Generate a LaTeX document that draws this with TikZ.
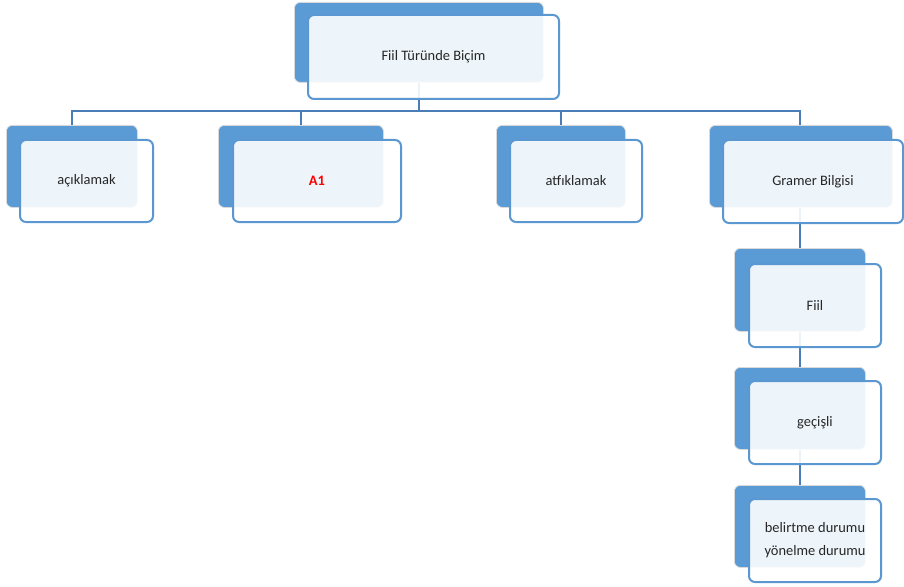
\documentclass[tikz,border=0pt]{standalone}
\usepackage{fontspec}
\setmainfont{Carlito}
\definecolor{backblue}{HTML}{5B9BD5}
\definecolor{rimblue}{HTML}{5B97D0}
\definecolor{wireblue}{HTML}{4A7DB5}
\definecolor{inktext}{HTML}{262626}
\tikzset{
  backbox/.style={rectangle, fill=backblue, draw=black!15, line width=0.8bp,
    rounded corners=6bp, inner sep=0pt, anchor=north west},
  frontbox/.style={rectangle, fill=white, fill opacity=0.9, text opacity=1,
    draw=rimblue, line width=2bp, rounded corners=6bp, inner sep=2bp,
    anchor=north west, align=center, text=inktext,
    font=\fontsize{14.5}{23}\selectfont},
  wire/.style={draw=wireblue, line width=2bp}
}
\begin{document}
\begin{tikzpicture}[x=1bp,y=-1bp]
\useasboundingbox (0,0) rectangle (904,587);
% back plates
\node[backbox, minimum width=249bp, minimum height=80bp] (topB) at (294,2) {};
\node[backbox, minimum width=131bp, minimum height=82bp] (acB) at (6,125) {};
\node[backbox, minimum width=165bp, minimum height=82bp] (aoB) at (218,125) {};
\node[backbox, minimum width=129bp, minimum height=82bp] (atB) at (496,125) {};
\node[backbox, minimum width=183bp, minimum height=82bp] (grB) at (709,125) {};
\node[backbox, minimum width=131bp, minimum height=83bp] (fiB) at (734,248) {};
\node[backbox, minimum width=131bp, minimum height=82bp] (geB) at (734,367) {};
\node[backbox, minimum width=131bp, minimum height=82bp] (beB) at (734,485) {};
% connectors
\coordinate (bus) at (0,111);
\draw[wire] (topB.south) -- (topB.south |- bus);
\draw[wire] (topB.south |- bus) -| (acB.north);
\draw[wire] (topB.south |- bus) -| (aoB.north);
\draw[wire] (topB.south |- bus) -| (atB.north);
\draw[wire] (topB.south |- bus) -| (fiB.north |- grB.north);
\draw[wire] (fiB.north |- grB.south) -- (fiB.north);
\draw[wire] (fiB.south) -- (geB.north);
\draw[wire] (geB.south) -- (beB.north);
% front cards
\node[frontbox, minimum width=251bp, minimum height=84bp] (topF) at (307,14) {Fiil Türünde Biçim};
\node[frontbox, minimum width=133bp, minimum height=82bp] (acF) at (19,139) {açıklamak};
\node[frontbox, minimum width=168bp, minimum height=82bp] (aoF) at (232,139) {\textcolor{red}{\bfseries A1}};
\node[frontbox, minimum width=132bp, minimum height=82bp] (atF) at (509,139) {atfıklamak};
\node[frontbox, minimum width=180bp, minimum height=83bp] (grF) at (722,139) {Gramer Bilgisi};
\node[frontbox, minimum width=132bp, minimum height=83bp] (fiF) at (748,263) {Fiil};
\node[frontbox, minimum width=132bp, minimum height=83bp] (geF) at (748,380) {geçişli};
\node[frontbox, minimum width=132bp, minimum height=83bp] (beF) at (748,498) {belirtme durumu\\yönelme durumu};
\end{tikzpicture}
\end{document}
